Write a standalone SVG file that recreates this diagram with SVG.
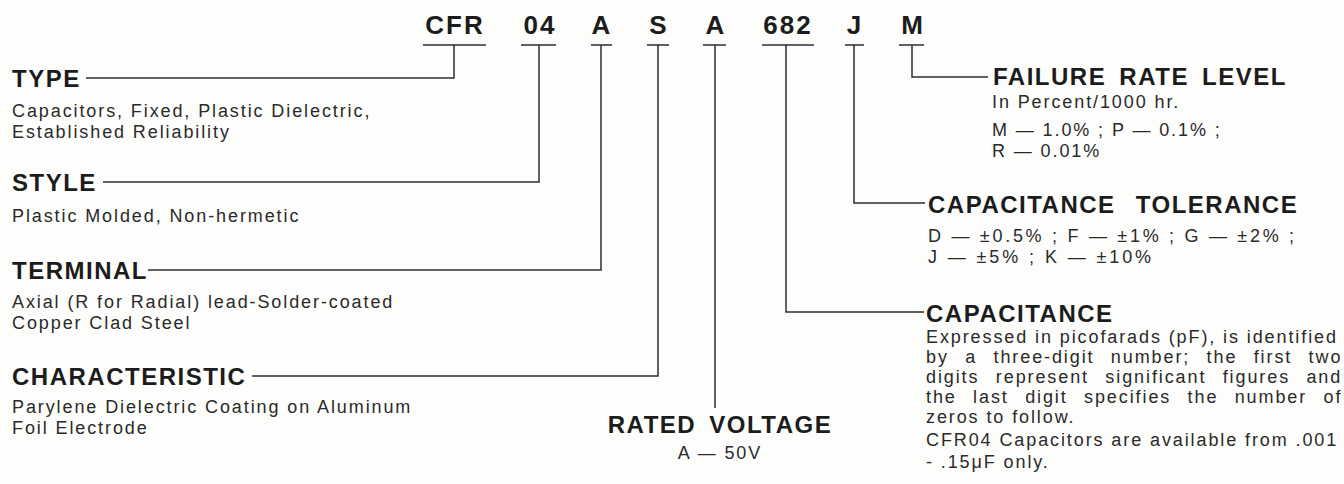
<svg xmlns="http://www.w3.org/2000/svg" width="1344" height="484" viewBox="0 0 1344 484">
<style>
.code{font-family:"Liberation Sans",Arial,sans-serif;font-weight:bold;font-size:26px;letter-spacing:2px;text-anchor:middle;fill:#1c1c1c}
.h{font-family:"Liberation Sans",Arial,sans-serif;font-weight:bold;font-size:24px;letter-spacing:1.5px;fill:#1c1c1c}
.hw{word-spacing:5px}
.b{font-family:"Liberation Sans",Arial,sans-serif;font-size:18px;letter-spacing:1.9px;fill:#2a2a2a}
.ln{stroke:#2e2e2e;stroke-width:1.5;fill:none}
</style>
<rect width="1344" height="484" fill="#fdfdfb"/>
<g id="code-CFR"><text class="code" x="455" y="34">CFR</text></g>
<g id="code-04"><text class="code" x="540" y="34">04</text></g>
<g id="code-A1"><text class="code" x="602" y="34">A</text></g>
<g id="code-S"><text class="code" x="659" y="34">S</text></g>
<g id="code-A2"><text class="code" x="716" y="34">A</text></g>
<g id="code-682"><text class="code" x="788" y="34">682</text></g>
<g id="code-J"><text class="code" x="855" y="34">J</text></g>
<g id="code-M"><text class="code" x="913" y="34">M</text></g>

<g id="connectors" class="ln">
<path d="M423,45H486M521,45H556M591,45H612M647,45H669M703,45H726M762,45H814M845,45H864M899,45H924"/>
<path d="M454,45V78H86"/>
<path d="M539,45V182H103"/>
<path d="M601,45V270H148"/>
<path d="M658,45V376H252"/>
<path d="M715,45V408"/>
<path d="M786,45V312H924"/>
<path d="M854,45V203H925"/>
<path d="M912,45V77H988"/>
</g>

<g id="label-type">
<text class="h" x="12" y="87">TYPE</text>
<text class="b" x="12" y="117">Capacitors, Fixed, Plastic Dielectric,</text>
<text class="b" x="12" y="138">Established Reliability</text>
</g>
<g id="label-style">
<text class="h" x="12" y="191">STYLE</text>
<text class="b" x="12" y="222">Plastic Molded, Non-hermetic</text>
</g>
<g id="label-terminal">
<text class="h" x="12" y="279">TERMINAL</text>
<text class="b" x="12" y="308">Axial (R for Radial) lead-Solder-coated</text>
<text class="b" x="12" y="329">Copper Clad Steel</text>
</g>
<g id="label-characteristic">
<text class="h" x="12" y="385">CHARACTERISTIC</text>
<text class="b" x="12" y="413">Parylene Dielectric Coating on Aluminum</text>
<text class="b" x="12" y="434">Foil Electrode</text>
</g>
<g id="label-voltage">
<text class="h hw" x="720" y="433" text-anchor="middle">RATED VOLTAGE</text>
<text class="b" x="720" y="459" text-anchor="middle">A — 50V</text>
</g>
<g id="label-failure">
<text class="h hw" x="993" y="85">FAILURE RATE LEVEL</text>
<text class="b" x="992" y="108">In Percent/1000 hr.</text>
<text class="b" x="992" y="136">M — 1.0% ; P — 0.1% ;</text>
<text class="b" x="992" y="157">R — 0.01%</text>
</g>
<g id="label-tolerance">
<text class="h" x="928" y="213" word-spacing="12">CAPACITANCE TOLERANCE</text>
<text class="b" x="928" y="242" textLength="368">D — ±0.5% ; F — ±1% ; G — ±2% ;</text>
<text class="b" x="928" y="263" textLength="225">J — ±5% ; K — ±10%</text>
</g>
<g id="label-capacitance">
<text class="h" x="926" y="322">CAPACITANCE</text>
<text class="b" x="926" y="343">Expressed in picofarads (pF), is identified</text>
<text class="b" x="926" y="363" word-spacing="9.5">by a three-digit number; the first two</text>
<text class="b" x="926" y="383" word-spacing="9.5">digits represent significant figures and</text>
<text class="b" x="926" y="403" word-spacing="9.5">the last digit specifies the number of</text>
<text class="b" x="926" y="423">zeros to follow.</text>
<text class="b" x="926" y="446">CFR04 Capacitors are available from .001</text>
<text class="b" x="926" y="468">- .15μF only.</text>
</g>
</svg>
